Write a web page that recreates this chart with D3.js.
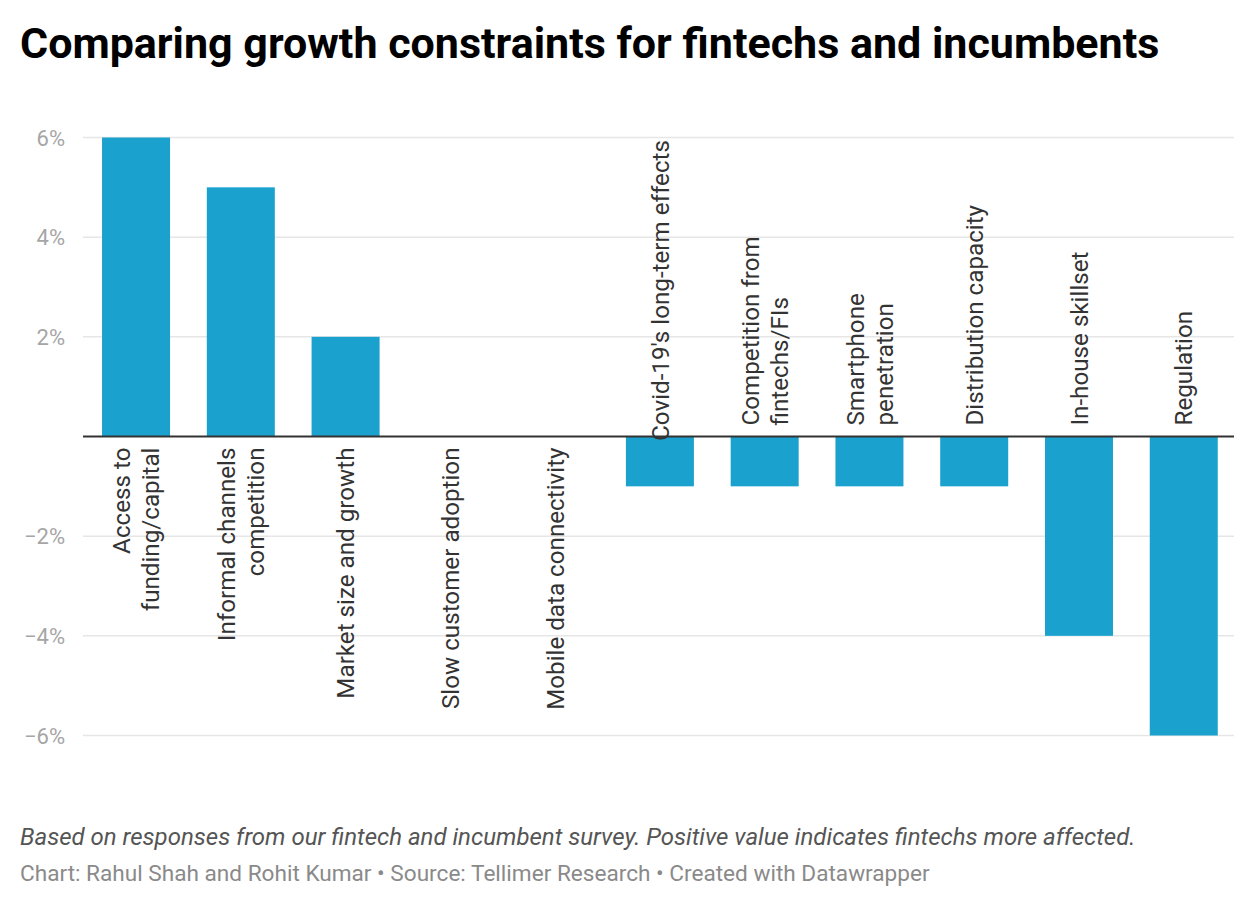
<!DOCTYPE html>
<html>
<head>
<meta charset="utf-8">
<script src="https://cdn.jsdelivr.net/npm/d3@7"></script>
<style>
  html, body { margin: 0; padding: 0; background: #fff; }
  svg { display: block; font-family: Roboto, "Noto Sans", sans-serif; }
</style>
</head>
<body>
<svg id="chart" width="1254" height="924"></svg>
<script>
const categories = [
  ["Access to", "funding/capital"],
  ["Informal channels", "competition"],
  ["Market size and growth"],
  ["Slow customer adoption"],
  ["Mobile data connectivity"],
  ["Covid-19's long-term effects"],
  ["Competition from", "fintechs/FIs"],
  ["Smartphone", "penetration"],
  ["Distribution capacity"],
  ["In-house skillset"],
  ["Regulation"]
];
const values = [6, 5, 2, 0, 0, -1, -1, -1, -1, -4, -6];
const yTicks = [-6, -4, -2, 2, 4, 6];

const title = "Comparing growth constraints for fintechs and incumbents";
const note = "Based on responses from our fintech and incumbent survey. Positive value indicates fintechs more affected.";
const source = "Chart: Rahul Shah and Rohit Kumar • Source: Tellimer Research • Created with Datawrapper";

const svg = d3.select("#chart");
const plotLeft = 83, plotRight = 1234;

const x = d3.scaleBand()
  .domain(d3.range(categories.length))
  .range([83.5, 1236.3])
  .paddingInner(0.351)
  .paddingOuter(0.177);

const y = d3.scaleLinear().domain([-6, 6]).range([735.5, 137.5]);

// Title
svg.append("text")
  .attr("x", 20).attr("y", 58)
  .attr("font-size", 43).attr("font-weight", 700)
  .attr("fill", "#000")
  .text(title);

// Gridlines
svg.append("g").selectAll("line").data(yTicks).join("line")
  .attr("x1", plotLeft).attr("x2", plotRight)
  .attr("y1", d => y(d)).attr("y2", d => y(d))
  .attr("stroke", "#e6e6e6").attr("stroke-width", 1.5);

// Y tick labels
const fmt = d => (d < 0 ? "\u2212" + Math.abs(d) : d) + "%";
svg.append("g").selectAll("text").data(yTicks).join("text")
  .attr("x", 65).attr("y", d => y(d) + 8)
  .attr("text-anchor", "end")
  .attr("font-size", 22).attr("fill", "#a6a6a6")
  .text(fmt);

// Bars
svg.append("g").selectAll("rect").data(values).join("rect")
  .attr("x", (d, i) => x(i))
  .attr("width", x.bandwidth())
  .attr("y", d => y(Math.max(0, d)))
  .attr("height", d => Math.abs(y(d) - y(0)))
  .attr("fill", "#1aa1cd");

// Zero line
svg.append("line")
  .attr("x1", plotLeft).attr("x2", plotRight)
  .attr("y1", y(0)).attr("y2", y(0))
  .attr("stroke", "#333").attr("stroke-width", 2);

// Category labels (rotated)
const fontSize = 24.2, lineH = 29;
const labelG = svg.append("g");
categories.forEach((lines, i) => {
  const v = values[i];
  const cx = x(i) + x.bandwidth() / 2;
  const n = lines.length;
  lines.forEach((ln, j) => {
    const offset = (j - (n - 1) / 2) * lineH;
    const t = labelG.append("text")
      .attr("font-size", fontSize)
      .attr("fill", "#333")
      .text(ln);
    const len = t.node().getComputedTextLength();
    let anchorY, anchor;
    if (v < 0) {
      anchorY = y(0) - 11;
      if (anchorY - len < 140) anchorY = 140 + len;
      anchor = "start";
    } else {
      anchorY = y(0) + 11;
      anchor = "end";
    }
    t.attr("text-anchor", anchor)
     .attr("transform", `translate(${cx + offset + fontSize * 0.36},${anchorY}) rotate(-90)`);
  });
});

// Notes
svg.append("text")
  .attr("x", 20).attr("y", 845)
  .attr("font-size", 24).attr("font-style", "italic")
  .attr("fill", "#555")
  .text(note);

svg.append("text")
  .attr("x", 20).attr("y", 881)
  .attr("font-size", 22.6)
  .attr("fill", "#8a8a8a")
  .text(source);
</script>
</body>
</html>
